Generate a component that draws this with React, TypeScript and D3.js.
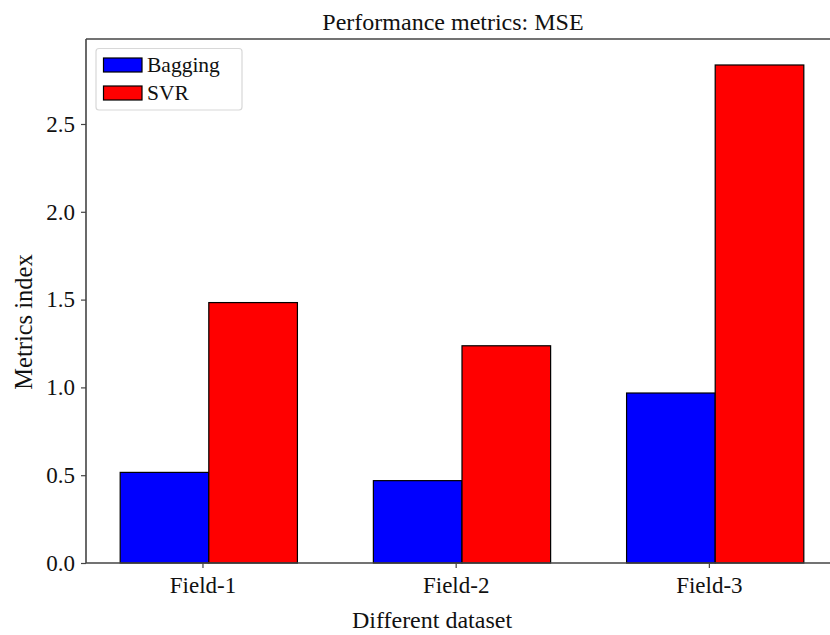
import * as d3 from 'd3'
import React, { useEffect, useRef } from 'react'

const categories = ['Field-1', 'Field-2', 'Field-3']
const bagging = [0.516, 0.469, 0.968]
const svr = [1.483, 1.237, 2.836]
const yTicks = [0, 0.5, 1, 1.5, 2, 2.5]
const seriesNames = ['Bagging', 'SVR']
const seriesColors = ['#0000ff', '#ff0000']

const FONT = '"Liberation Serif", "Times New Roman", serif'

export default function App() {
  const ref = useRef<SVGSVGElement>(null)

  useEffect(() => {
    document.body.style.margin = '0'
    if (!ref.current) return
    const svg = d3.select(ref.current)
    svg.selectAll('*').remove()

    const left = 86
    const right = 838
    const top = 39
    const bottom = 563

    const x = d3.scaleLinear().domain([-0.46, 2.51]).range([left, right])
    const y = d3.scaleLinear().domain([0, 2.984]).range([bottom, top])
    const barW = 0.35
    const offsets = [-0.15, 0.2]

    const series = [bagging, svr]
    series.forEach((vals, s) => {
      svg
        .append('g')
        .selectAll('rect')
        .data(vals)
        .join('rect')
        .attr('x', (_, i) => x(i + offsets[s] - barW / 2))
        .attr('width', x(barW) - x(0))
        .attr('y', d => y(d))
        .attr('height', d => y(0) - y(d))
        .attr('fill', seriesColors[s])
        .attr('stroke', '#000')
        .attr('stroke-width', 1.2)
    })

    // axes
    const yAxis = svg
      .append('g')
      .attr('transform', `translate(${left},0)`)
      .call(
        d3
          .axisLeft(y)
          .tickValues(yTicks)
          .tickFormat(d3.format('.1f'))
          .tickSize(5)
          .tickPadding(6)
      )
    yAxis.select('.domain').remove()

    const xAxis = svg
      .append('g')
      .attr('transform', `translate(0,${bottom})`)
      .call(
        d3
          .axisBottom(x)
          .tickValues(categories.map((_, i) => i))
          .tickFormat((_, i) => categories[i])
          .tickSize(5)
          .tickPadding(9)
      )
    xAxis.select('.domain').remove()

    svg
      .selectAll('.tick text')
      .attr('font-family', FONT)
      .attr('font-size', 23)
      .attr('fill', '#111')
    svg.selectAll('.tick line').attr('stroke', '#444').attr('stroke-width', 1.2)

    // spines: left, top, bottom (right is past the picture edge)
    const spine = svg.append('g').attr('stroke', '#444').attr('stroke-width', 1.6).attr('fill', 'none')
    spine.append('line').attr('x1', left).attr('x2', left).attr('y1', top).attr('y2', bottom)
    spine.append('line').attr('x1', left).attr('x2', 830).attr('y1', top).attr('y2', top)
    spine.append('line').attr('x1', left).attr('x2', 830).attr('y1', bottom).attr('y2', bottom)

    // titles
    svg
      .append('text')
      .attr('x', 453)
      .attr('y', 29.5)
      .attr('text-anchor', 'middle')
      .attr('font-family', FONT)
      .attr('font-size', 24)
      .attr('fill', '#111')
      .text('Performance metrics: MSE')

    svg
      .append('text')
      .attr('x', 432)
      .attr('y', 628)
      .attr('text-anchor', 'middle')
      .attr('font-family', FONT)
      .attr('font-size', 24)
      .attr('fill', '#111')
      .text('Different dataset')

    svg
      .append('text')
      .attr('transform', `translate(31.5,322) rotate(-90)`)
      .attr('text-anchor', 'middle')
      .attr('font-family', FONT)
      .attr('font-size', 24.5)
      .attr('fill', '#111')
      .text('Metrics index')

    // legend
    const legend = svg.append('g')
    legend
      .append('rect')
      .attr('x', 96)
      .attr('y', 48.5)
      .attr('width', 146)
      .attr('height', 61.5)
      .attr('rx', 3)
      .attr('fill', '#fff')
      .attr('stroke', '#d8d8d8')
      .attr('stroke-width', 1.2)
    seriesNames.forEach((name, i) => {
      const ly = 58 + i * 28
      legend
        .append('rect')
        .attr('x', 103.5)
        .attr('y', ly)
        .attr('width', 38.5)
        .attr('height', 14)
        .attr('fill', seriesColors[i])
        .attr('stroke', '#000')
        .attr('stroke-width', 1.2)
      legend
        .append('text')
        .attr('x', 147)
        .attr('y', ly + 14)
        .attr('font-family', FONT)
        .attr('font-size', 21.5)
        .attr('fill', '#111')
        .text(name)
    })
  }, [])

  return <svg ref={ref} width={830} height={635} style={{ display: 'block', background: '#fff' }} />
}
